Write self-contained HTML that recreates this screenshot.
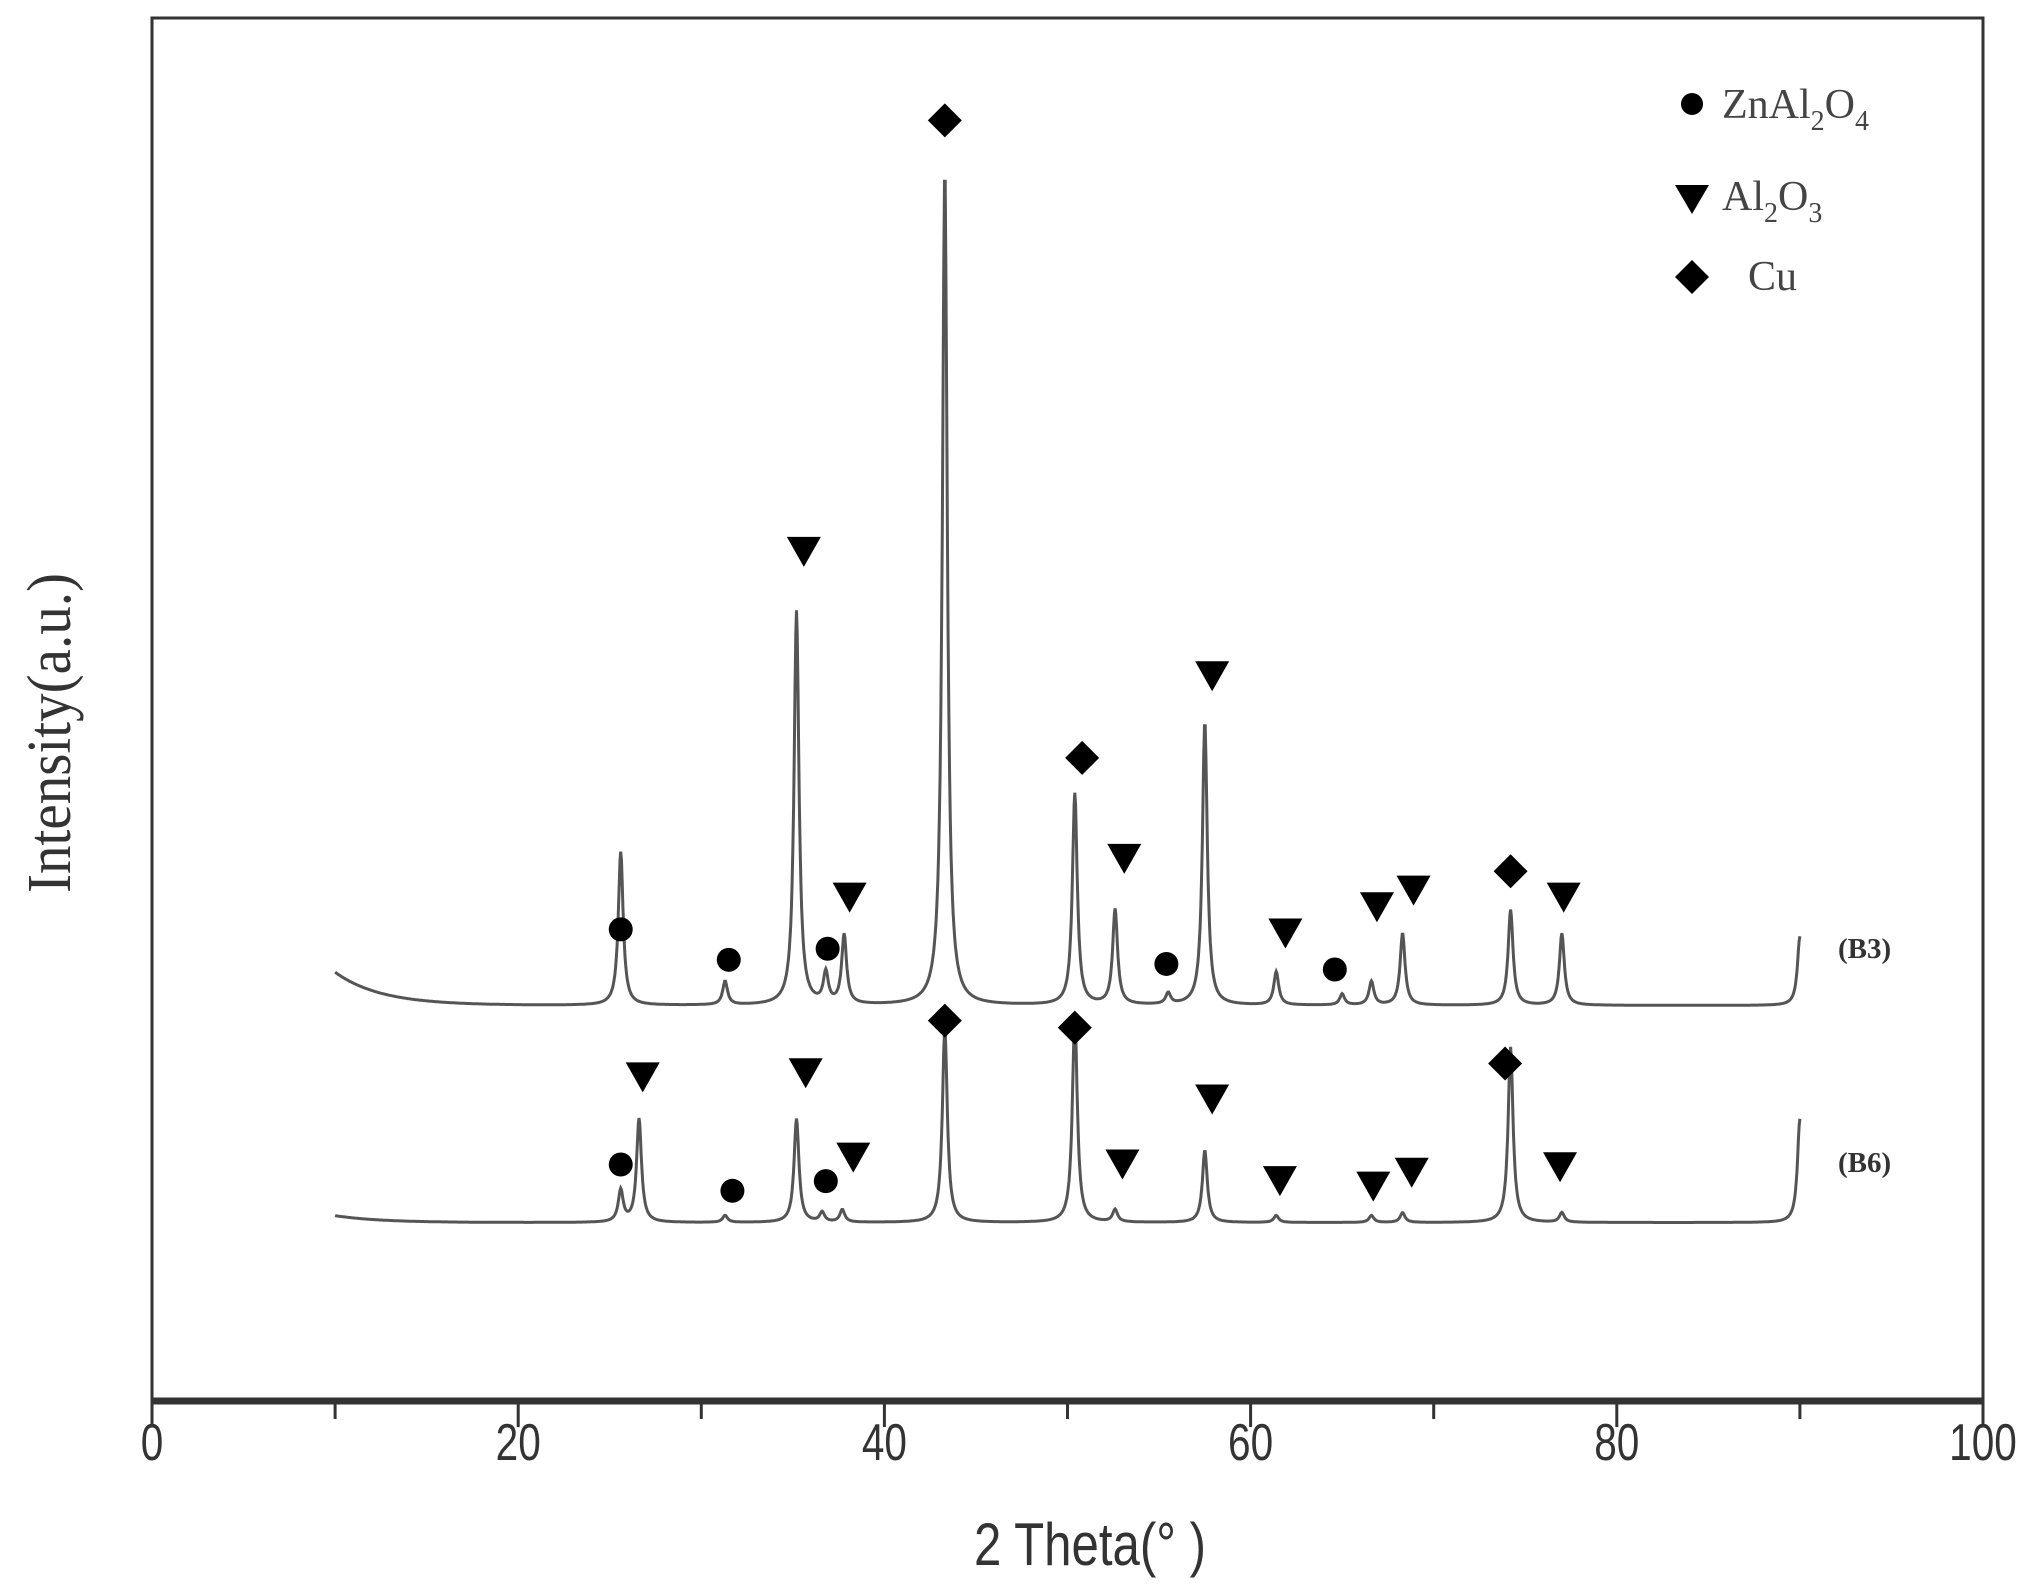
<!DOCTYPE html>
<html><head><meta charset="utf-8"><style>
html,body{margin:0;padding:0;background:#fff;}
svg{display:block;}
</style></head><body>
<svg id="chart" width="2040" height="1593" viewBox="0 0 2040 1593" xmlns="http://www.w3.org/2000/svg">
<g id="frame"></g>
<g id="series"></g>
<g id="markers"></g>
<text x="0" y="0" transform="translate(70,733) rotate(-90) scale(0.92,1)" text-anchor="middle" font-family="Liberation Serif, serif" font-size="62" fill="#333">Intensity(a.u.)</text>
<text x="1090" y="1565" text-anchor="middle" font-family="Liberation Sans, sans-serif" font-size="60" fill="#333" transform="translate(1090,0) scale(0.82,1) translate(-1090,0)">2 Theta(°  )</text>
<g font-family="Liberation Serif, serif" font-size="42" fill="#444">
 <circle cx="1692" cy="104" r="11" fill="#000"/>
 <text x="1722" y="118">ZnAl<tspan font-size="28" dy="12">2</tspan><tspan dy="-12">O</tspan><tspan font-size="28" dy="12">4</tspan></text>
 <path d="M1675,185 L1709,185 L1692,214 Z" fill="#000"/>
 <text x="1722" y="210">Al<tspan font-size="28" dy="12">2</tspan><tspan dy="-12">O</tspan><tspan font-size="28" dy="12">3</tspan></text>
 <path d="M1692,260 L1709,277 L1692,294 L1675,277 Z" fill="#000"/>
 <text x="1748" y="290">Cu</text>
</g>
<text x="1838" y="958" font-family="Liberation Serif, serif" font-weight="bold" font-size="29" fill="#333">(B3)</text>
<text x="1838" y="1172" font-family="Liberation Serif, serif" font-weight="bold" font-size="29" fill="#333">(B6)</text>
</svg>
<script>
const xTicks = [0,20,40,60,80,100];
const xMinor = [10,30,50,70,90];
// B3 peaks: positions, absolute intensities
const b3Pos = [25.6,31.3,35.2,36.8,37.8,43.3,50.4,52.6,55.5,57.5,61.4,65.0,66.6,68.3,74.2,77.0,90.0];
const b3Int = [397,303,571,308,336,891,439,355,294,491,310,294,303,338,355,338,336];
const b3Base = 286, b3Start = 310;
const b6Pos = [25.6,26.6,31.3,35.2,36.6,37.7,43.3,50.4,52.6,57.5,61.4,66.6,68.3,74.2,77.0,90.0];
const b6Int = [152,204,134,204,136,138,270,279,138,181,134,134,136,256,136,204];
const b6Base = 129, b6Start = 134;
// markers
const mkB3X = [25.6,31.5,35.6,36.9,38.1,43.3,50.8,53.1,55.4,57.9,61.9,64.6,66.9,68.9,74.2,77.1];
const mkB3V = [341,319,614,327,364,926,465,392,316,524,338,312,357,369,383,364];
const mkB3T = ['c','c','t','c','t','d','d','t','c','t','t','c','t','t','d','t'];
const mkB6X = [25.6,26.8,31.7,35.7,36.8,38.3,43.3,50.4,53.0,57.9,61.6,66.7,68.8,73.9,76.9];
const mkB6V = [171,234,152,237,159,176,275,270,171,218,159,155,165,244,169];
const mkB6T = ['c','t','c','t','c','t','d','d','t','t','t','t','t','d','t'];

const X0=152,X1=1983,YB=1401,YT=18;
const xs = v => X0 + (X1-X0)*v/100;
const ys = v => YB - (YB-YT)*v/1000;
const NS='http://www.w3.org/2000/svg';
function mk(tag,attrs,parent){const e=document.createElementNS(NS,tag);for(const k in attrs)e.setAttribute(k,attrs[k]);parent.appendChild(e);return e;}
const frame=document.getElementById('frame');
let e;
e=mk('path',{d:`M${X0},${YB} L${X0},${YT} L${X1},${YT} L${X1},${YB}`,fill:'none',stroke:'#333','stroke-width':3},frame);


e=mk('line',{x1:X0,y1:YB,x2:X1,y2:YB,stroke:'#333','stroke-width':7},frame);


xTicks.forEach(t=>{
 const l=mk('line',{x1:xs(t),y1:YB,x2:xs(t),y2:YB+26,stroke:'#333','stroke-width':3},frame);
 
 
 const tx=mk('text',{x:xs(t),y:1460,'text-anchor':'middle','font-family':'Liberation Sans, sans-serif','font-size':52,fill:'#333',transform:`translate(${xs(t)},0) scale(0.78,1) translate(${-xs(t)},0)`},frame);
 tx.textContent=t;
 
 
});
xMinor.forEach(t=>{
 const l=mk('line',{x1:xs(t),y1:YB,x2:xs(t),y2:YB+18,stroke:'#333','stroke-width':3},frame);
 
 
});
function spectrum(pos,ints,base,start){
 const w=0.16; let pts=[];
 for(let x=10;x<=90.001;x+=0.04){
  let v=base+(start-base)*Math.exp(-(x-10)/2.5);
  for(let i=0;i<pos.length;i++){const dx=x-pos[i];v+=(ints[i]-base)*w*w/(dx*dx+w*w);}
  pts.push(xs(x).toFixed(1)+','+ys(v).toFixed(1));
 }
 return 'M'+pts.join(' L');
}
const sg=document.getElementById('series');
e=mk('path',{d:spectrum(b3Pos,b3Int,b3Base,b3Start),fill:'none',stroke:'#555','stroke-width':3},sg);


e=mk('path',{d:spectrum(b6Pos,b6Int,b6Base,b6Start),fill:'none',stroke:'#555','stroke-width':3},sg);


const mg=document.getElementById('markers');
function marker(x,v,t){
 const cx=xs(x),cy=ys(v);let m;
 if(t==='c'){m=mk('circle',{cx:cx,cy:cy,r:12,fill:'#000'},mg);}
 else if(t==='t'){m=mk('path',{d:`M${cx-17},${cy-15} L${cx+17},${cy-15} L${cx},${cy+15} Z`,fill:'#000'},mg);}
 else {m=mk('path',{d:`M${cx},${cy-17} L${cx+17},${cy} L${cx},${cy+17} L${cx-17},${cy} Z`,fill:'#000'},mg);}
 
}
mkB3X.forEach((x,i)=>marker(x,mkB3V[i],mkB3T[i]));
mkB6X.forEach((x,i)=>marker(x,mkB6V[i],mkB6T[i]));
</script>
</body></html>
